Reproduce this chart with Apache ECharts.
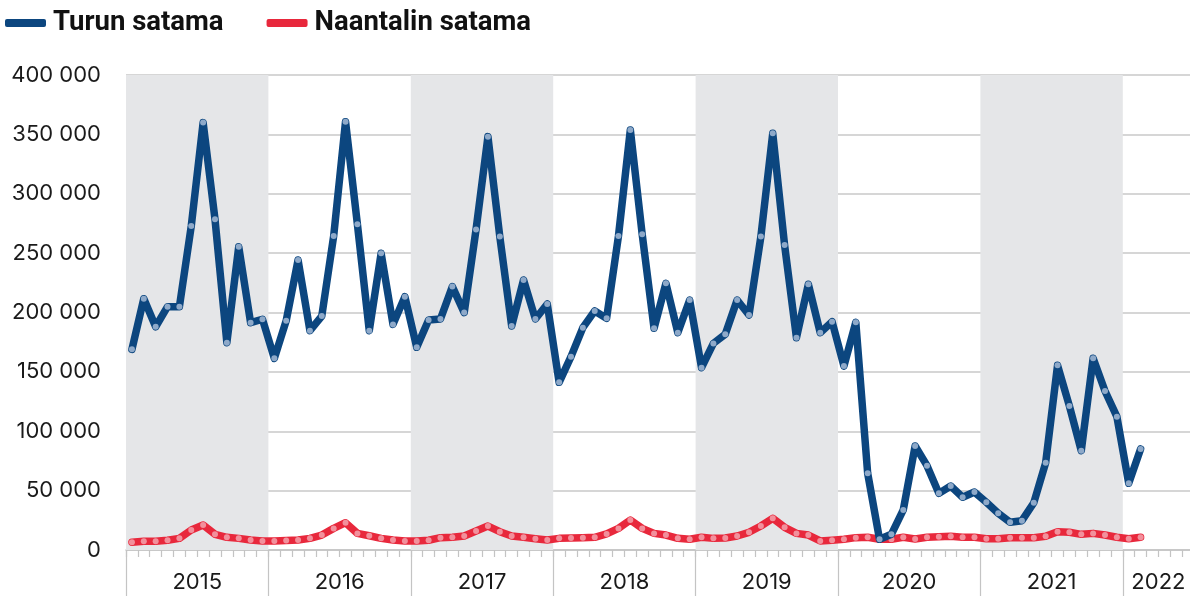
<!DOCTYPE html>
<html>
<head>
<meta charset="utf-8">
<script src="https://cdn.jsdelivr.net/npm/echarts@6/dist/echarts.min.js"></script>
<style>
html,body{margin:0;padding:0;background:#fff;}
#chart{width:1190px;height:596px;}
</style>
</head>
<body>
<div id="chart"></div>
<script>
const years = ['2015','2016','2017','2018','2019','2020','2021','2022'];
const monthsInYear = [12,12,12,12,12,12,12,6];
const yTicks = [0,50000,100000,150000,200000,250000,300000,350000,400000];

const turun = [
  169000,211600,188000,204900,204900,272800,359900,278500,174600,255400,191400,194300,
  161400,193100,244200,184700,197000,264400,360700,274300,184700,249900,190000,213300,
  170700,193700,194500,221800,199900,270000,348100,263900,188600,227400,194500,207200,
  141200,162800,187200,201300,195100,264400,353700,265800,186700,224600,183000,210500,
  153500,174000,181600,210500,197900,263900,350900,256800,178800,223800,183000,192300,
  154900,191700,64600,9000,13200,33700,87600,71000,47700,53900,44400,48800,
  40200,30900,23300,24700,39800,73500,155500,121300,83600,161400,133900,112300,
  56200,85100,null,null,null,null
];
const naantali = [
  6500,7300,7300,8200,9800,16800,21000,13200,10700,9800,8400,7600,
  7600,7900,8400,9800,12600,18200,23000,14000,12000,9800,8400,7600,
  7600,8200,10400,10700,11800,16000,20200,15400,11800,10700,9500,8400,
  9800,10100,10400,10700,13500,18200,25300,18200,14000,12600,9800,9000,
  10700,9800,10100,11800,14900,20200,26700,19100,14000,12600,7600,8200,
  9000,10400,10700,9000,9000,10700,9300,10700,11200,11500,10700,10700,
  9500,9500,10400,10400,10400,11500,15400,14900,13200,14000,12600,10700,
  9500,10700,null,null,null,null
];

// month categories built from the year list
const months = [];
years.forEach((y, i) => { for (let m = 1; m <= monthsInYear[i]; m++) months.push(y + '-' + String(m).padStart(2,'0')); });
const total = months.length;

// year boundaries / centers on the helper value axis
const yearStarts = [];
const yearCenters = [];
let acc = 0;
years.forEach((y, i) => { yearStarts.push(acc); yearCenters.push(acc + monthsInYear[i] / 2); acc += monthsInYear[i]; });

const shaded = [];
years.forEach((y, i) => { if (i % 2 === 0 && i < years.length - 1) shaded.push([{ xAxis: yearStarts[i] }, { xAxis: yearStarts[i] + monthsInYear[i] }]); });

const BLUE = '#0c467f', RED = '#e8283c';
const FONT = 'Inter';
const chart = echarts.init(document.getElementById('chart'), null, { renderer: 'canvas' });
chart.setOption({
  animation: false,
  backgroundColor: '#ffffff',
  textStyle: { fontFamily: FONT },
  legend: {
    left: 0, top: 4,
    itemWidth: 41, itemHeight: 8, itemGap: 43,
    icon: 'roundRect',
    textStyle: { fontFamily: 'Roboto', fontWeight: 'bold', fontSize: 27.5, color: '#111111', padding: [0, 0, 0, 2] },
    data: [
      { name: 'Turun satama', itemStyle: { color: BLUE } },
      { name: 'Naantalin satama', itemStyle: { color: RED } }
    ]
  },
  grid: { left: 126, top: 75, width: 1068, bottom: 46, containLabel: false, outerBoundsMode: 'none' },
  xAxis: [
    {
      type: 'category', data: months, boundaryGap: true, position: 'bottom',
      axisLine: { show: true, lineStyle: { color: '#c4c4c4', width: 1.5 } },
      axisTick: { show: true, interval: 0, length: 7, lineStyle: { color: '#c4c4c4', width: 1.2 } },
      axisLabel: { show: false },
      splitLine: { show: false }
    },
    {
      type: 'value', min: 0, max: total, position: 'bottom',
      axisLine: { show: false },
      axisTick: { show: true, customValues: yearStarts, length: 46, lineStyle: { color: '#c4c4c4', width: 1.2 } },
      axisLabel: {
        show: true, customValues: yearCenters, margin: 21,
        fontFamily: FONT, fontSize: 22, color: '#1a1a1a',
        formatter: (v) => { const i = yearCenters.indexOf(v); return i >= 0 ? years[i] : ''; }
      },
      splitLine: { show: false }
    }
  ],
  yAxis: {
    type: 'value', min: 0, max: 400000, interval: 50000,
    axisLine: { show: false }, axisTick: { show: false },
    axisLabel: {
      margin: 25, fontFamily: FONT, fontSize: 22, color: '#1a1a1a',
      formatter: (v) => yTicks.indexOf(v) >= 0 ? String(v).replace(/\B(?=(\d{3})+(?!\d))/g, ' ') : ''
    },
    splitLine: { show: true, lineStyle: { color: '#c9c9c9', width: 1.5 } }
  },
  series: [
    {
      name: 'bands', type: 'line', xAxisIndex: 1, yAxisIndex: 0,
      data: [[0, 0]], symbol: 'none', lineStyle: { opacity: 0 }, silent: true, z: 0,
      markArea: { silent: true, itemStyle: { color: '#e5e6e8' }, data: shaded }
    },
    {
      name: 'Turun satama', type: 'line', xAxisIndex: 0, data: turun, z: 4,
      lineStyle: { color: BLUE, width: 7.5, join: 'round', cap: 'round' },
      symbol: 'circle', symbolSize: 6, showSymbol: true,
      itemStyle: { color: '#8ea9c9', borderWidth: 0 }
    },
    {
      name: 'Naantalin satama', type: 'line', xAxisIndex: 0, data: naantali, z: 3,
      lineStyle: { color: RED, width: 7.5, join: 'round', cap: 'round' },
      symbol: 'circle', symbolSize: 6, showSymbol: true,
      itemStyle: { color: '#f2909c', borderWidth: 0 }
    }
  ]
});
</script>
</body>
</html>
